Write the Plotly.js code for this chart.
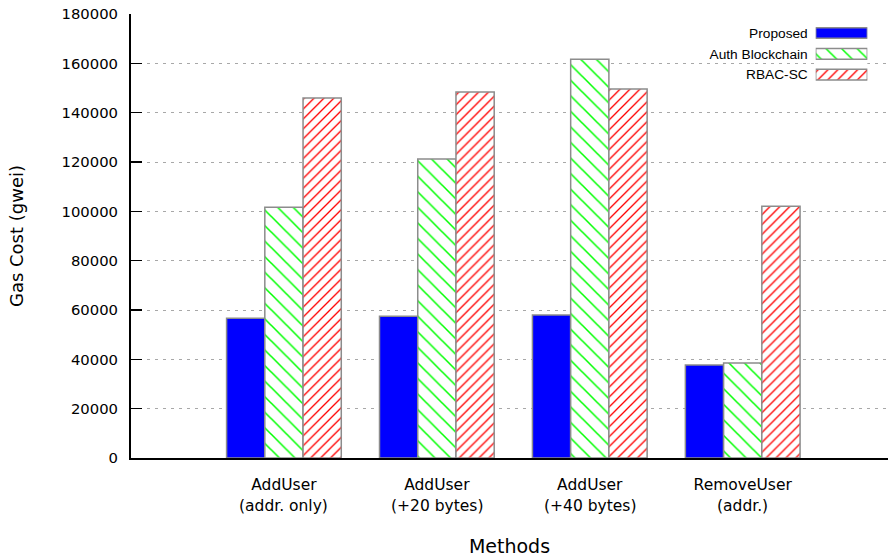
<!DOCTYPE html>
<html>
<head>
<meta charset="utf-8">
<script src="https://cdn.plot.ly/plotly-3.0.1.min.js"></script>
<style>html,body{margin:0;padding:0;background:#fff;}#chart{width:888px;height:557px;}</style>
</head>
<body>
<div id="chart"></div>
<script>
// ---- data ----
const methodLine1 = ['AddUser', 'AddUser', 'AddUser', 'RemoveUser'];
const methodLine2 = ['(addr. only)', '(+20 bytes)', '(+40 bytes)', '(addr.)'];
const seriesNames = ['Proposed', 'Auth Blockchain', 'RBAC-SC'];
const proposed = [56700, 57500, 58000, 37700];
const authBlockchain = [101700, 121200, 161700, 38500];
const rbacSC = [145900, 148400, 149600, 102100];
const yTicks = [0, 20000, 40000, 60000, 80000, 100000, 120000, 140000, 160000, 180000];

// ---- styles ----
const categories = methodLine1.map((l, i) => l + ' ' + methodLine2[i]);
const fills = ['#0000ff', '#ffffff', '#ffffff'];
const patShapes = ['', '\\', '/'];
const patColors = ['#0000ff', '#00ff00', '#ff0000'];
const patSizes = [8, 11, 7];
const patSolidity = [0.2, 0.14, 0.19];
const edge = {color: '#8c8c8c', width: 1.5};
const tickFont = {family: 'DejaVu Sans', size: 15.5, color: '#000'};

function markerFor(k) {
  return {
    color: fills[k], line: edge,
    pattern: {shape: patShapes[k], fgcolor: patColors[k], fgopacity: 1, bgcolor: '#ffffff', size: patSizes[k], solidity: patSolidity[k], fillmode: 'overlay'}
  };
}

const data = seriesNames.map((name, k) => ({
  type: 'bar', name: name, x: categories, y: [proposed, authBlockchain, rbacSC][k],
  marker: markerFor(k), showlegend: false, hoverinfo: 'y'
}));

// custom key: sample boxes on a small side axis, names as its tick labels (text left of sample)
seriesNames.forEach((name, k) => {
  data.push({
    type: 'bar', orientation: 'h', x: [1], y: [name],
    xaxis: 'x2', yaxis: 'y2', width: 0.51, offset: -0.255,
    marker: markerFor(k), showlegend: false, hoverinfo: 'skip'
  });
});

const layout = {
  width: 888, height: 557,
  margin: {l: 131, r: 0, t: 14, b: 99},
  paper_bgcolor: '#fff', plot_bgcolor: '#fff',
  barmode: 'group', bargap: 0.25, bargroupgap: 0,
  showlegend: false,
  font: {family: 'DejaVu Sans', color: '#000'},
  xaxis: {
    type: 'category', range: [-1, 3.95],
    tickmode: 'array', tickvals: categories, ticktext: methodLine1,
    tickfont: tickFont, ticks: '', ticklabelstandoff: 11,
    showline: true, linecolor: '#000', linewidth: 2, showgrid: false, zeroline: false,
    title: {text: 'Methods', font: {family: 'DejaVu Sans', size: 19, color: '#000'}, standoff: 47}
  },
  yaxis: {
    range: [0, 180000], tickmode: 'array', tickvals: yTicks, tickformat: 'd',
    tickfont: {family: 'DejaVu Sans', size: 14.8, color: '#000'},
    ticks: 'inside', ticklen: 11, tickwidth: 1.5, tickcolor: '#000', ticklabelstandoff: 8,
    showline: true, linecolor: '#000', linewidth: 2,
    showgrid: true, gridcolor: '#a8a8a8', gridwidth: 1, griddash: '3px,5px', zeroline: false,
    title: {text: 'Gas Cost (gwei)', font: {family: 'DejaVu Sans', size: 18, color: '#000'}, standoff: 33}
  },
  xaxis2: {domain: [0.9045, 0.9727], range: [0, 1], visible: false, fixedrange: true},
  yaxis2: {
    domain: [0.8399, 0.9806], anchor: 'x2', type: 'category', autorange: 'reversed',
    showgrid: false, showline: false, zeroline: false, ticks: '',
    tickfont: {family: 'Liberation Sans', size: 13.7, color: '#000'}, ticklabelstandoff: 7, fixedrange: true
  },
  annotations: categories.map((c, i) => ({
    x: c, xref: 'x', y: 0, yref: 'paper', yanchor: 'top', yshift: -37,
    text: methodLine2[i], showarrow: false, font: tickFont
  })),
  shapes: [{
    type: 'rect', xref: 'paper', yref: 'paper', x0: 0.699, x1: 0.983, y0: 0.829, y1: 0.991,
    fillcolor: '#ffffff', line: {width: 0}, layer: 'between'
  }]
};

Plotly.newPlot('chart', data, layout, {displayModeBar: false, staticPlot: true});
</script>
</body>
</html>
